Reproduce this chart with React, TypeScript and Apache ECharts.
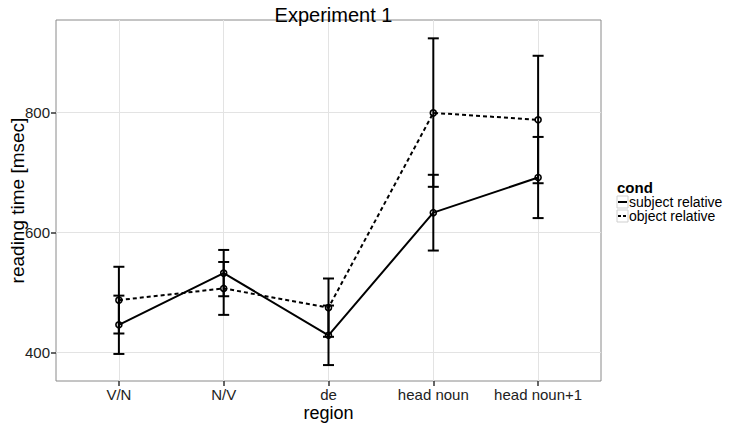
import React, { useEffect, useRef } from "react";
import * as echarts from "echarts";

const regions = ["V/N", "N/V", "de", "head noun", "head noun+1"];
const xPos = [1, 2, 3, 4, 5];
const subjMean = [446.5, 532.5, 429, 633, 691.5];
const subjLow = [398, 494, 379.5, 570, 624];
const subjHigh = [495, 571, 478.5, 696, 759];
const objMean = [487.5, 507, 475, 799, 787.5];
const objLow = [432, 463, 426.5, 676, 682];
const objHigh = [543, 551, 523.5, 923, 894];
const yTicks = [400, 600, 800];
const seriesNames = ["subject relative", "object relative"];

const FONT = "Liberation Sans";

function errorBarSeries(low: number[], high: number[]) {
  return {
    type: "custom",
    silent: true,
    z: 2,
    data: xPos.map((x, i) => [x, low[i], high[i]]),
    renderItem: (params: any, api: any) => {
      const x = api.value(0);
      const lo = api.coord([x, api.value(1)]);
      const hi = api.coord([x, api.value(2)]);
      const hw = 5.5;
      const style = { stroke: "#000", lineWidth: 2, fill: "none" };
      return {
        type: "group",
        children: [
          { type: "line", shape: { x1: lo[0], y1: lo[1], x2: hi[0], y2: hi[1] }, style },
          { type: "line", shape: { x1: lo[0] - hw, y1: lo[1], x2: lo[0] + hw, y2: lo[1] }, style },
          { type: "line", shape: { x1: hi[0] - hw, y1: hi[1], x2: hi[0] + hw, y2: hi[1] }, style },
        ],
      };
    },
  };
}

function lineSeries(name: string, mean: number[], dashed: boolean) {
  return {
    type: "line",
    name,
    z: 3,
    data: xPos.map((x, i) => [x, mean[i]]),
    symbol: "circle",
    symbolSize: 6,
    itemStyle: { color: "rgba(0,0,0,0)", borderColor: "#000", borderWidth: 1.6 },
    lineStyle: { color: "#000", width: 2, type: dashed ? [4, 3] : "solid" },
  };
}

export default function App() {
  const ref = useRef<HTMLDivElement>(null);
  useEffect(() => {
    if (!ref.current) return;
    const chart = echarts.init(ref.current, undefined, { renderer: "svg" });
    const gridL = 56, gridT = 20, gridW = 545, gridH = 361;
    const legendText = (text: string, y: number, bold = false) => ({
      type: "text",
      x: bold ? 617 : 629,
      y,
      style: {
        text,
        fontFamily: FONT,
        fontSize: bold ? 15 : 14,
        fontWeight: bold ? "bold" : "normal",
        fill: "#000",
        textVerticalAlign: "middle",
        lineHeight: 14,
      },
    });
    chart.setOption({
      animation: false,
      backgroundColor: "#fff",
      textStyle: { fontFamily: FONT },
      title: {
        text: "Experiment 1",
        left: gridL + gridW / 2,
        textAlign: "center",
        top: 0,
        textStyle: { fontFamily: FONT, fontSize: 20, fontWeight: "normal", color: "#000" },
      },
      grid: {
        left: gridL,
        top: gridT,
        width: gridW,
        height: gridH,
        containLabel: false,
        outerBoundsMode: "none",
        show: true,
        borderColor: "#8a8a8a",
        borderWidth: 1,
        backgroundColor: "#fff",
      },
      xAxis: {
        type: "value",
        min: 0.4,
        max: 5.6,
        name: "region",
        nameLocation: "middle",
        nameGap: 23,
        nameMoveOverlap: false,
        nameTextStyle: { fontFamily: FONT, fontSize: 18, color: "#000" },
        axisLine: { show: false },
        axisTick: { show: true, length: 5, customValues: xPos, lineStyle: { color: "#333", width: 1.5 } },
        axisLabel: {
          customValues: xPos,
          margin: 6,
          fontFamily: FONT,
          fontSize: 15,
          color: "#222",
          formatter: (v: number) => regions[Math.round(v) - 1] ?? "",
        },
        splitLine: { show: true, lineStyle: { color: "#e3e3e3", width: 1 } },
      },
      yAxis: {
        type: "value",
        min: 353,
        max: 953.5,
        name: "reading time [msec]",
        nameLocation: "middle",
        nameGap: 29,
        nameMoveOverlap: false,
        nameTextStyle: { fontFamily: FONT, fontSize: 19, color: "#000" },
        axisLine: { show: false },
        axisTick: { show: true, length: 5, customValues: yTicks, lineStyle: { color: "#333", width: 1.5 } },
        axisLabel: { customValues: yTicks, margin: 6, fontFamily: FONT, fontSize: 15, color: "#222" },
        splitLine: { show: true, lineStyle: { color: "#e3e3e3", width: 1 } },
      },
      series: [
        errorBarSeries(subjLow, subjHigh),
        errorBarSeries(objLow, objHigh),
        lineSeries(seriesNames[0], subjMean, false),
        lineSeries(seriesNames[1], objMean, true),
      ],
      graphic: [
        legendText("cond", 187, true),
        { type: "rect", shape: { x: 617, y: 196, width: 11, height: 12 }, style: { fill: "#fff", stroke: "#cfcfcf", lineWidth: 1 } },
        { type: "line", shape: { x1: 618, y1: 202, x2: 627, y2: 202 }, style: { stroke: "#000", lineWidth: 2 } },
        legendText(seriesNames[0], 201.5),
        { type: "rect", shape: { x: 617, y: 210, width: 11, height: 12 }, style: { fill: "#fff", stroke: "#cfcfcf", lineWidth: 1 } },
        { type: "line", shape: { x1: 618, y1: 216, x2: 627, y2: 216 }, style: { stroke: "#000", lineWidth: 2, lineDash: [3, 2] } },
        legendText(seriesNames[1], 216),
      ],
    });
    return () => chart.dispose();
  }, []);
  return <div ref={ref} style={{ width: 736, height: 427, position: "absolute", left: 0, top: 0 }} />;
}
